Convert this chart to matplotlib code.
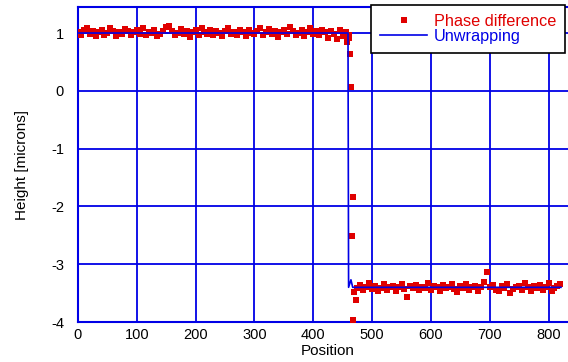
import matplotlib
matplotlib.use('Agg')
import matplotlib.pyplot as plt
import numpy as np

plt.rcParams['font.family'] = ['Liberation Sans', 'DejaVu Sans']
plt.rcParams['axes.unicode_minus'] = False

# phase difference samples, upper plateau (positions 0..460, every 5)
upper_pos = np.arange(0, 461, 5)
upper_val = [1.02, 0.96, 1.05, 1.08, 0.99, 1.03, 0.94, 1.01, 1.06, 0.97,
             1.00, 1.09, 1.04, 0.95, 1.02, 0.98, 1.07, 1.03, 0.96, 1.01,
             1.05, 0.99, 1.08, 0.97, 1.02, 1.00, 1.06, 0.95, 0.99, 1.04,
             1.10, 1.12, 1.03, 0.96, 1.00, 1.07, 0.98, 1.04, 0.93, 1.01,
             1.05, 0.97, 1.09, 1.02, 0.99, 1.06, 0.96, 1.03, 1.00, 0.94,
             1.04, 1.08, 0.98, 1.01, 0.97, 1.05, 1.02, 0.95, 1.06, 1.00,
             0.98, 1.04, 1.09, 0.96, 1.02, 1.07, 0.99, 1.03, 0.93, 1.01,
             1.05, 0.98, 1.10, 1.04, 0.97, 1.00, 1.06, 0.95, 1.02, 1.08,
             0.99, 1.03, 0.96, 1.05, 1.01, 0.92, 1.04, 0.98, 0.90, 1.06,
             0.94, 1.02, 0.97]

# samples across the step
step_pos = [458, 461, 462, 464, 466, 467, 468, 472]
step_val = [0.85, 0.92, 0.63, 0.06, -2.51, -1.83, -3.96, -3.62]

# lower plateau (positions 470..820, every 5)
lower_pos = np.arange(470, 821, 5)
lower_val = [-3.48, -3.42, -3.36, -3.45, -3.40, -3.33, -3.43, -3.38, -3.46, -3.41,
             -3.35, -3.44, -3.39, -3.37, -3.47, -3.40, -3.34, -3.43, -3.57, -3.38,
             -3.42, -3.36, -3.45, -3.39, -3.41, -3.33, -3.44, -3.38, -3.40, -3.46,
             -3.36, -3.42, -3.39, -3.35, -3.43, -3.48, -3.37, -3.41, -3.34, -3.44,
             -3.40, -3.38, -3.46, -3.40, -3.30, -3.14, -3.39, -3.36, -3.44, -3.47,
             -3.38, -3.41, -3.35, -3.49, -3.43, -3.39, -3.37, -3.45, -3.32, -3.40,
             -3.46, -3.38, -3.42, -3.36, -3.44, -3.39, -3.33, -3.47, -3.41, -3.38, -3.35]

# unwrapped profile
unwrap_pos = [0, 100, 200, 300, 400, 459, 460, 464, 467, 600, 821]
unwrap_val = [1.0, 1.0, 1.0, 1.0, 1.0, 1.0, -3.40, -3.27, -3.40, -3.40, -3.40]

RED = '#e00000'
BLUE = '#0000e6'

fig = plt.figure(figsize=(5.68, 3.62), dpi=100)
ax = fig.add_axes([78 / 568, 40 / 362, 500 / 568, 315 / 362])

phase_x = np.concatenate([upper_pos, step_pos, lower_pos])
phase_y = np.concatenate([upper_val, step_val, lower_val])
ax.plot(phase_x, phase_y, 's', color=RED, ms=4.8, mec=RED, mew=0,
        label='Phase difference', zorder=3)
ax.plot(unwrap_pos, unwrap_val, '-', color=BLUE, lw=1.2, label='Unwrapping', zorder=4)

ax.set_xlim(0, 850)
ax.set_ylim(-4, 1.45)
ax.set_xticks([0, 100, 200, 300, 400, 500, 600, 700, 800])
ax.set_yticks([-4, -3, -2, -1, 0, 1])
ax.grid(True, color=BLUE, lw=1.3)
ax.set_axisbelow(True)
for side in ['left', 'bottom', 'top']:
    ax.spines[side].set_color(BLUE)
    ax.spines[side].set_linewidth(1.5)
ax.spines['right'].set_visible(False)
ax.tick_params(length=0, labelsize=10.5, pad=4)
ax.tick_params(axis='y', pad=10)

ax.set_xlabel('Position', fontsize=11, labelpad=2)
ax.set_ylabel('Height [microns]', fontsize=11, labelpad=16)

leg = ax.legend(loc='upper left', bbox_to_anchor=(371 / 568, 1 - 5 / 362),
                bbox_transform=fig.transFigure, numpoints=1, fontsize=11.7,
                frameon=True, fancybox=False, framealpha=1, edgecolor='black',
                borderaxespad=0, borderpad=0.55, labelspacing=0.0,
                handlelength=2.9, handletextpad=0.4)
leg.get_frame().set_linewidth(1.2)
leg.get_texts()[0].set_color(RED)
leg.get_texts()[1].set_color(BLUE)

fig.savefig('out.png', dpi=100)
